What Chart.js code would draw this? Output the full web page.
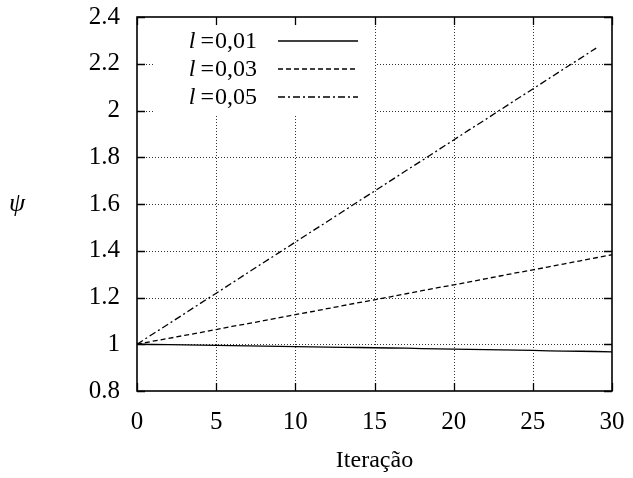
<!DOCTYPE html>
<html>
<head>
<meta charset="utf-8">
<script src="https://cdn.jsdelivr.net/npm/chart.js@4/dist/chart.umd.min.js"></script>
<style>
  html, body { margin: 0; padding: 0; background: #fff; }
  canvas { display: block; }
</style>
</head>
<body>
<canvas id="psiChart" width="633" height="478"></canvas>
<script>
"use strict";

// data
const iterations = [0, 1, 2, 3, 4, 5, 6, 7, 8, 9, 10, 11, 12, 13, 14, 15, 16, 17, 18, 19, 20, 21, 22, 23, 24, 25, 26, 27, 28, 29, 30];

const psiL001 = [1.000, 0.999, 0.998, 0.997, 0.996, 0.995, 0.994, 0.993, 0.992, 0.991, 0.990, 0.989, 0.988, 0.987, 0.986, 0.985,
                 0.984, 0.983, 0.981, 0.980, 0.979, 0.978, 0.977, 0.976, 0.975, 0.974, 0.972, 0.971, 0.970, 0.969, 0.967];

const psiL003 = [1.000, 1.013, 1.025, 1.038, 1.050, 1.063, 1.076, 1.088, 1.101, 1.114, 1.127, 1.139, 1.152, 1.165, 1.178, 1.190,
                 1.203, 1.216, 1.229, 1.242, 1.254, 1.267, 1.280, 1.293, 1.306, 1.318, 1.331, 1.344, 1.357, 1.370, 1.383];

// this one stops at iteration 29
const psiL005 = [1.000, 1.044, 1.087, 1.131, 1.175, 1.218, 1.262, 1.306, 1.350, 1.393, 1.437, 1.481, 1.524, 1.568, 1.612, 1.655,
                 1.699, 1.743, 1.786, 1.830, 1.874, 1.918, 1.961, 2.005, 2.049, 2.092, 2.136, 2.180, 2.223, 2.267];

const seriesLabels = ['0,01', '0,03', '0,05'];
const seriesDash = [[], [5, 3], [7, 3, 2, 3]];

const xTitle = 'Iteração';
const yTitle = 'ψ';

const FONT = '"Liberation Serif", "DejaVu Serif", serif';
const FONT_SIZE = 24;
const TICK_SIZE = 25;

function toPoints(values) {
  let pts = [];
  for (let i = 0; i < values.length; i++) {
    pts.push({ x: iterations[i], y: values[i] });
  }
  return pts;
}

const allSeries = [psiL001, psiL003, psiL005];

let datasets = [];
for (let i = 0; i < allSeries.length; i++) {
  datasets.push({
    label: 'l=' + seriesLabels[i],
    data: toPoints(allSeries[i]),
    borderColor: '#000',
    borderWidth: 1.3,
    borderDash: seriesDash[i],
    pointRadius: 0,
    tension: 0,
    fill: false
  });
}

// grid, legend, inward ticks, frame, axis titles
const framePlugin = {
  id: 'frame',
  beforeDatasetsDraw(chart) {
    const ctx = chart.ctx;
    const a = chart.chartArea;
    const xs = chart.scales.x;
    const ys = chart.scales.y;
    ctx.save();
    ctx.strokeStyle = '#333';
    ctx.lineWidth = 1;
    ctx.setLineDash([1, 2]);
    xs.ticks.forEach(t => {
      if (t.value <= xs.min || t.value >= xs.max) return;
      const px = Math.round(xs.getPixelForValue(t.value)) + 0.5;
      ctx.beginPath();
      ctx.moveTo(px, a.top);
      ctx.lineTo(px, a.bottom);
      ctx.stroke();
    });
    ys.ticks.forEach(t => {
      if (t.value <= ys.min + 1e-9 || t.value >= ys.max - 1e-9) return;
      const py = Math.round(ys.getPixelForValue(t.value)) + 0.5;
      ctx.beginPath();
      ctx.moveTo(a.left, py);
      ctx.lineTo(a.right, py);
      ctx.stroke();
    });
    ctx.restore();
  },
  afterDatasetsDraw(chart) {
    const ctx = chart.ctx;
    const a = chart.chartArea;
    const xs = chart.scales.x;
    const ys = chart.scales.y;
    ctx.save();

    // legend box (covers the grid)
    ctx.fillStyle = '#fff';
    ctx.fillRect(155, 21, 220, 93);

    const rowY = [42, 70, 98];
    const textRight = 257;
    ctx.textBaseline = 'middle';
    ctx.fillStyle = '#000';
    ctx.textAlign = 'left';
    chart.data.datasets.forEach((ds, i) => {
      ctx.font = FONT_SIZE + 'px ' + FONT;
      const wNum = ctx.measureText(seriesLabels[i]).width;
      const wEq = ctx.measureText('=').width;
      ctx.fillText(seriesLabels[i], textRight - wNum, rowY[i]);
      ctx.fillText('=', textRight - wNum - wEq - 1, rowY[i]);
      ctx.font = 'italic ' + FONT_SIZE + 'px ' + FONT;
      const wL = ctx.measureText('l').width;
      ctx.fillText('l', textRight - wNum - wEq - 6 - wL, rowY[i]);

      ctx.strokeStyle = '#000';
      ctx.lineWidth = ds.borderWidth;
      ctx.setLineDash(ds.borderDash);
      ctx.beginPath();
      ctx.moveTo(278, rowY[i] - 1);
      ctx.lineTo(358, rowY[i] - 1);
      ctx.stroke();
    });
    ctx.setLineDash([]);

    // inward tick marks on all sides
    const tickLen = 8;
    ctx.strokeStyle = '#000';
    ctx.lineWidth = 1.3;
    xs.ticks.forEach(t => {
      const px = Math.round(xs.getPixelForValue(t.value)) + 0.5;
      ctx.beginPath();
      ctx.moveTo(px, a.bottom);
      ctx.lineTo(px, a.bottom - tickLen);
      ctx.moveTo(px, a.top);
      ctx.lineTo(px, a.top + tickLen);
      ctx.stroke();
    });
    ys.ticks.forEach(t => {
      const py = Math.round(ys.getPixelForValue(t.value)) + 0.5;
      ctx.beginPath();
      ctx.moveTo(a.left, py);
      ctx.lineTo(a.left + tickLen, py);
      ctx.moveTo(a.right, py);
      ctx.lineTo(a.right - tickLen, py);
      ctx.stroke();
    });

    // frame
    ctx.lineWidth = 1.6;
    ctx.strokeRect(a.left, a.top, a.right - a.left, a.bottom - a.top);

    // axis titles
    ctx.fillStyle = '#000';
    ctx.textAlign = 'center';
    ctx.textBaseline = 'middle';
    ctx.font = FONT_SIZE + 'px ' + FONT;
    ctx.fillText(xTitle, (a.left + a.right) / 2, 461);
    ctx.font = 'italic ' + (FONT_SIZE + 2) + 'px ' + FONT;
    ctx.fillText(yTitle, 17, 204);

    ctx.restore();
  }
};

const ctx = document.getElementById('psiChart');

const psiChart = new Chart(ctx, {
  type: 'line',
  data: { datasets: datasets },
  options: {
    responsive: false,
    animation: false,
    devicePixelRatio: 1,
    layout: { padding: { top: 17, right: 21, bottom: 0, left: 0 } },
    plugins: {
      legend: { display: false },
      tooltip: { enabled: false }
    },
    scales: {
      x: {
        type: 'linear',
        min: 0,
        max: 30,
        grid: { display: false },
        border: { display: false },
        ticks: {
          stepSize: 5,
          padding: 8,
          color: '#000',
          maxRotation: 0,
          font: { family: FONT, size: TICK_SIZE }
        },
        afterFit(scale) {
          scale.height = 87;
          scale.paddingLeft = 0;
          scale.paddingRight = 0;
        }
      },
      y: {
        min: 0.8,
        max: 2.4,
        grid: { display: false },
        border: { display: false },
        ticks: {
          stepSize: 0.2,
          padding: 9,
          color: '#000',
          font: { family: FONT, size: TICK_SIZE },
          callback: v => String(Number(v.toFixed(1)))
        },
        afterFit(scale) {
          scale.width = 137;
          scale.paddingTop = 0;
          scale.paddingBottom = 0;
        }
      }
    }
  },
  plugins: [framePlugin]
});
</script>
</body>
</html>
